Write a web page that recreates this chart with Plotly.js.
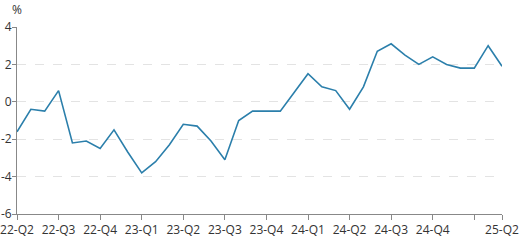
<!DOCTYPE html>
<html>
<head>
<meta charset="utf-8">
<script src="https://cdn.plot.ly/plotly-3.0.1.min.js"></script>
<style>html,body{margin:0;padding:0;background:#fff;}#chart{width:529px;height:240px;}</style>
</head>
<body>
<div id="chart"></div>
<script>
// Monthly values (%), 36 points from 22-Q2 to 25-Q2
var values = [-1.6, -0.4, -0.5, 0.6, -2.2, -2.1, -2.5, -1.5, -2.7, -3.8,
              -3.2, -2.3, -1.2, -1.3, -2.1, -3.1, -1.0, -0.5, -0.5, -0.5,
              0.5, 1.5, 0.8, 0.6, -0.4, 0.8, 2.7, 3.1, 2.5, 2.0,
              2.4, 2.0, 1.8, 1.8, 3.0, 1.9];
var tickPositions = [0, 3, 6, 9, 12, 15, 18, 21, 24, 27, 30, 33, 35];
var tickLabels = ["22-Q2", "22-Q3", "22-Q4", "23-Q1", "23-Q2", "23-Q3", "23-Q4",
                  "24-Q1", "24-Q2", "24-Q3", "24-Q4", "", "25-Q2"];
var yTicks = [-6, -4, -2, 0, 2, 4];
var yTickLabels = ["-6", "-4", "-2", "0", "2", "4"];
var unitLabel = "%";

var xIdx = values.map(function (_, i) { return i; });

var trace = {
  x: xIdx, y: values, type: 'scatter', mode: 'lines',
  line: {color: '#2b7fab', width: 1.6},
  hoverinfo: 'skip'
};

var layout = {
  width: 529, height: 240,
  margin: {l: 17, r: 27, t: 27, b: 26},
  paper_bgcolor: '#fff', plot_bgcolor: '#fff',
  font: {family: 'Open Sans, sans-serif', size: 12, color: '#333'},
  showlegend: false,
  xaxis: {
    range: [0, 35], tickmode: 'array', tickvals: tickPositions, ticktext: tickLabels,
    showgrid: false, zeroline: false, showline: true, linecolor: '#888', linewidth: 1,
    ticks: 'outside', ticklen: 5, tickcolor: '#888', tickangle: 0,
    tickfont: {size: 12, color: '#333'}
  },
  yaxis: {
    range: [-6, 4], tickmode: 'array', tickvals: yTicks, ticktext: yTickLabels,
    showgrid: true, gridcolor: '#e3e3e3', griddash: 'dash', gridwidth: 1,
    zeroline: false, showline: true, linecolor: '#888', linewidth: 1,
    ticks: 'outside', ticklen: 4, tickcolor: '#888', ticklabelstandoff: -2,
    tickfont: {size: 12, color: '#333'}
  },
  annotations: [{
    text: unitLabel, xref: 'paper', yref: 'paper', x: 0, y: 1.096,
    xanchor: 'center', yanchor: 'middle', showarrow: false,
    font: {size: 12, color: '#333'}
  }]
};

Plotly.newPlot('chart', [trace], layout, {displayModeBar: false, staticPlot: true});
</script>
</body>
</html>
